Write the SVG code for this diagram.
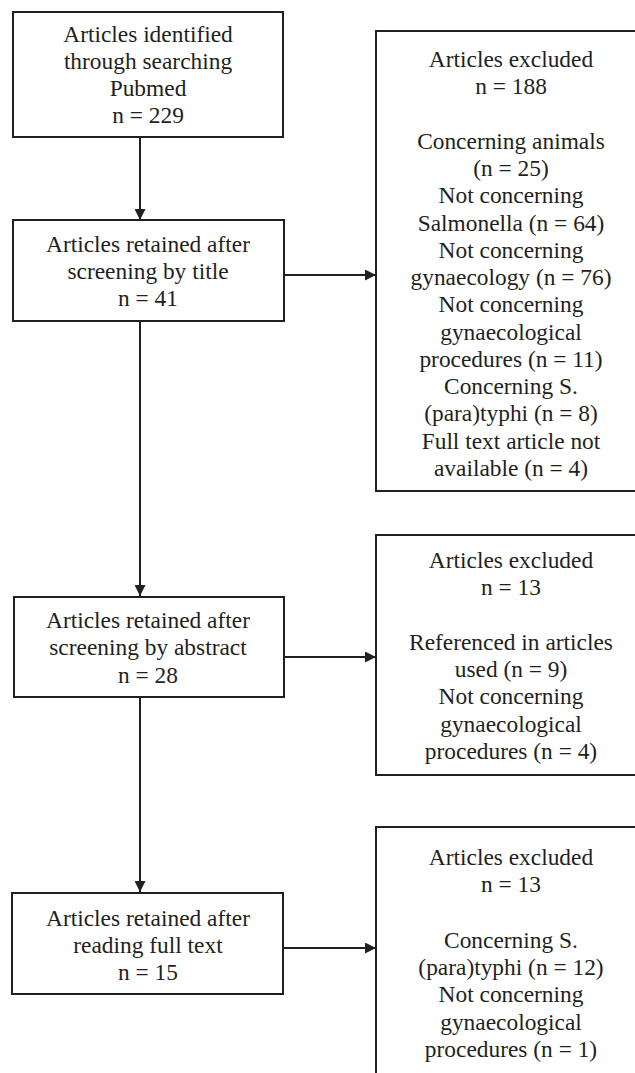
<svg xmlns="http://www.w3.org/2000/svg" width="635" height="1073" viewBox="0 0 635 1073">
<defs>
<style>
.box{fill:#fff;stroke:#231f20;stroke-width:2}
.t{font-family:"Liberation Serif","Times New Roman",serif;font-size:23.4px;fill:#231f20;text-anchor:middle}
.c{stroke:#231f20;stroke-width:2;fill:none;marker-end:url(#ah)}
</style>
<marker id="ah" markerUnits="userSpaceOnUse" markerWidth="11" markerHeight="11" refX="11" refY="5.5" orient="auto">
<path d="M0,0 L11,5.5 L0,11 z" fill="#231f20"/>
</marker>
</defs>
<rect width="635" height="1073" fill="#fff"/>
<g id="connectors">
<line class="c" x1="140" y1="137" x2="140" y2="220"/>
<line class="c" x1="140" y1="321" x2="140" y2="596"/>
<line class="c" x1="140" y1="697" x2="140" y2="892"/>
<line class="c" x1="284" y1="275" x2="376" y2="275"/>
<line class="c" x1="284" y1="657" x2="376" y2="657"/>
<line class="c" x1="283" y1="948" x2="376" y2="948"/>
</g>
<g id="identified">
<rect class="box" x="13" y="12" width="270" height="125"/>
<text class="t"><tspan x="148" y="42">Articles identified</tspan><tspan x="148" y="69">through searching</tspan><tspan x="148" y="96">Pubmed</tspan><tspan x="148" y="123">n = 229</tspan></text>
</g>
<g id="title">
<rect class="box" x="13" y="220" width="271" height="101"/>
<text class="t"><tspan x="148" y="252">Articles retained after</tspan><tspan x="148" y="279">screening by title</tspan><tspan x="148" y="306">n = 41</tspan></text>
</g>
<g id="abstract">
<rect class="box" x="14" y="597" width="270" height="100"/>
<text class="t"><tspan x="148" y="628">Articles retained after</tspan><tspan x="148" y="655">screening by abstract</tspan><tspan x="148" y="683">n = 28</tspan></text>
</g>
<g id="fulltext">
<rect class="box" x="12" y="893" width="271" height="101"/>
<text class="t"><tspan x="148" y="926">Articles retained after</tspan><tspan x="148" y="953">reading full text</tspan><tspan x="148" y="980">n = 15</tspan></text>
</g>
<g id="excluded1">
<rect class="box" x="376" y="31" width="270" height="460"/>
<text class="t"><tspan x="511" y="67">Articles excluded</tspan><tspan x="511" y="94">n = 188</tspan><tspan x="511" y="149">Concerning animals</tspan><tspan x="511" y="176">(n = 25)</tspan><tspan x="511" y="203">Not concerning</tspan><tspan x="511" y="231">Salmonella (n = 64)</tspan><tspan x="511" y="258">Not concerning</tspan><tspan x="511" y="285">gynaecology (n = 76)</tspan><tspan x="511" y="312">Not concerning</tspan><tspan x="511" y="340">gynaecological</tspan><tspan x="511" y="367">procedures (n = 11)</tspan><tspan x="511" y="394">Concerning S.</tspan><tspan x="511" y="421">(para)typhi (n = 8)</tspan><tspan x="511" y="449">Full text article not</tspan><tspan x="511" y="476">available (n = 4)</tspan></text>
</g>
<g id="excluded2">
<rect class="box" x="376" y="535" width="270" height="240"/>
<text class="t"><tspan x="511" y="568">Articles excluded</tspan><tspan x="511" y="595">n = 13</tspan><tspan x="511" y="650">Referenced in articles</tspan><tspan x="511" y="677">used (n = 9)</tspan><tspan x="511" y="704">Not concerning</tspan><tspan x="511" y="732">gynaecological</tspan><tspan x="511" y="759">procedures (n = 4)</tspan></text>
</g>
<g id="excluded3">
<rect class="box" x="376" y="827" width="270" height="260"/>
<text class="t"><tspan x="511" y="865">Articles excluded</tspan><tspan x="511" y="892">n = 13</tspan><tspan x="511" y="948">Concerning S.</tspan><tspan x="511" y="975">(para)typhi (n = 12)</tspan><tspan x="511" y="1002">Not concerning</tspan><tspan x="511" y="1030">gynaecological</tspan><tspan x="511" y="1057">procedures (n = 1)</tspan></text>
</g>
</svg>
